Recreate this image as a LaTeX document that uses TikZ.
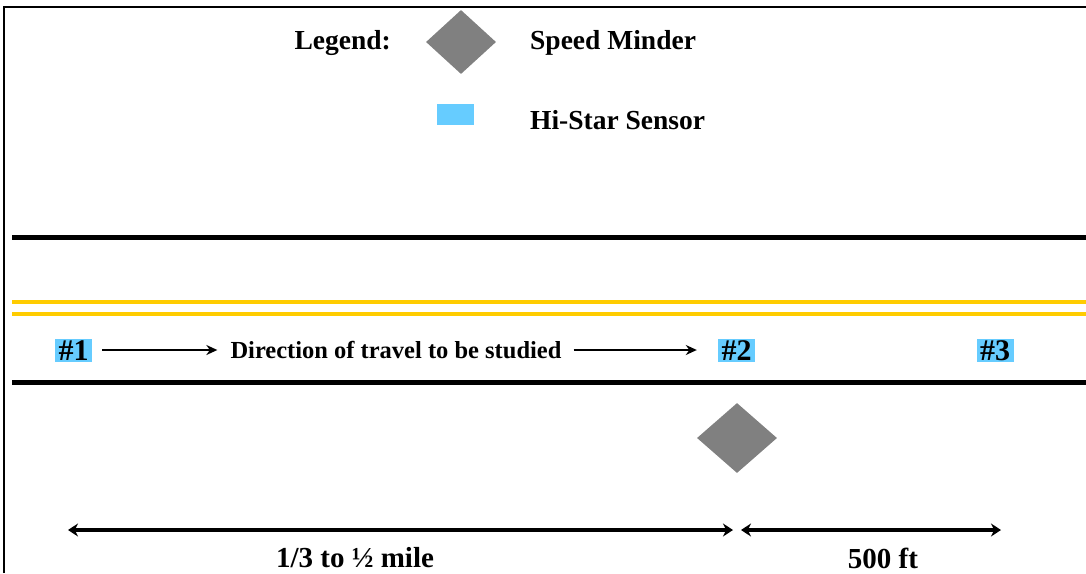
\documentclass[tikz,border=0pt]{standalone}
\usepackage{fontspec}
\setmainfont{Liberation Serif}
\usetikzlibrary{shapes.geometric,arrows.meta}
\definecolor{hiblue}{RGB}{102,204,255}
\definecolor{roadyellow}{RGB}{255,204,0}
\definecolor{minder}{RGB}{128,128,128}
\tikzset{
  lbl/.style={font=\bfseries\fontsize{27.5}{30}\selectfont, inner sep=0pt},
  dimlbl/.style={font=\bfseries\fontsize{29}{31}\selectfont, inner sep=0pt},
  small/.style={font=\bfseries\fontsize{24.5}{26}\selectfont, inner sep=0pt},
  sensor/.style={font=\bfseries\fontsize{30}{32}\selectfont, fill=hiblue, inner xsep=0pt, inner ysep=0pt, minimum width=37pt, minimum height=23pt, text depth=0pt, text height=21pt},
  minderbox/.style={diamond, fill=minder, inner sep=0pt},
  blackline/.style={line width=5pt, black},
  yellowline/.style={line width=4.5pt, roadyellow},
  dirarrow/.style={-{Stealth[length=11pt,width=10pt]}, line width=2.2pt},
  dimarrow/.style={{Stealth[length=10pt,width=13pt]}-{Stealth[length=10pt,width=13pt]}, line width=4pt},
}
\begin{document}
\begin{tikzpicture}[x=1pt,y=-1pt]
\useasboundingbox (0,0) rectangle (1086,573);
% frame
\coordinate (fbl) at (4,573);
\coordinate (ftl) at (4,7);
\coordinate (ftr) at (1086,7);
\draw[line width=1.5pt] (fbl) -- (ftl) -- (ftr);
% legend
\node[lbl, anchor=east] (legend) at (391,43) {Legend:};
\node[minderbox, minimum width=70pt, minimum height=64pt] (legdiamond) at (461,42) {};
\node[lbl, anchor=west] (legminder) at (530,43) {Speed Minder};
\node[fill=hiblue, minimum width=37pt, minimum height=21pt, inner sep=0pt] (legsensor) at (455.5,114.5) {};
\node[lbl, anchor=west] (legsensortext) at (530,120) {Hi-Star Sensor};
% road lines
\coordinate (b1l) at (12,237.5);  \coordinate (b1r) at (1086,237.5);
\coordinate (y1l) at (12,302);    \coordinate (y1r) at (1086,302);
\coordinate (y2l) at (12,314);    \coordinate (y2r) at (1086,314);
\coordinate (b2l) at (12,382.5);  \coordinate (b2r) at (1086,382.5);
\draw[blackline] (b1l) -- (b1r);
\draw[yellowline] (y1l) -- (y1r);
\draw[yellowline] (y2l) -- (y2r);
\draw[blackline] (b2l) -- (b2r);
% sensors
\node[sensor] (s1) at (73.5,350) {\#1};
\node[sensor] (s2) at (736.5,350) {\#2};
\node[sensor] (s3) at (995,350) {\#3};
% direction
\node[small] (dir) at (396,350) {Direction of travel to be studied};
\draw[dirarrow] ([xshift=10pt]s1.east) -- ([xshift=-13pt]dir.west);
\draw[dirarrow] ([xshift=12pt]dir.east) -- ([xshift=-21pt]s2.west);
% speed minder
\node[minderbox, minimum width=80pt, minimum height=70pt] (minder) at (737,438) {};
% dimensions
\coordinate (d1l) at (68,530);
\coordinate (d1r) at (733,530);
\coordinate (d2l) at (741,530);
\coordinate (d2r) at (1001,530);
\draw[dimarrow] (d1l) -- (d1r);
\draw[dimarrow] (d2l) -- (d2r);
\node[dimlbl] (dist1) at (355,558) {1/3 to ½ mile};
\node[dimlbl] (dist2) at (883,558) {500 ft};
\end{tikzpicture}
\end{document}
